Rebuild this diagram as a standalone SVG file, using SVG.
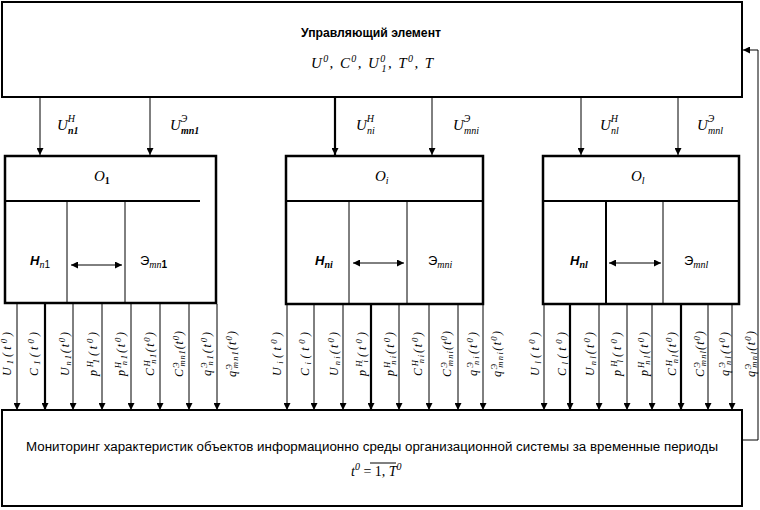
<svg xmlns="http://www.w3.org/2000/svg" width="760" height="510" viewBox="0 0 760 510">
<defs>
<style>
.bx{fill:#fff;stroke:#000;stroke-width:2}
.ob{fill:#fff;stroke:#000;stroke-width:2.5}
.ln{stroke:#000;stroke-width:1;fill:none}
.th{stroke:#000;stroke-width:2.2;fill:none}
.dv{stroke:#000;stroke-width:2;fill:none}
.ss{font-family:"Liberation Sans",Arial,sans-serif;fill:#000}
.m{font-family:"Liberation Serif","Times New Roman",serif;font-style:italic;fill:#000}
.r{font-size:12px}
.sp{font-size:8.5px}
.sb{font-size:8.5px}
.u{font-size:15px}
.us{font-size:10px}
</style>
<marker id="ah" viewBox="0 0 8 8" refX="8" refY="4" markerWidth="7" markerHeight="7" markerUnits="userSpaceOnUse" orient="auto-start-reverse"><path d="M0,0 L8,4 L0,8 z" fill="#000"/></marker>
</defs>

<g id="control">
<rect class="bx" x="2" y="2" width="740" height="95"/>
<text class="ss" x="371" y="37" font-size="12" font-weight="bold" text-anchor="middle" textLength="140" lengthAdjust="spacingAndGlyphs">Управляющий элемент</text>
<text class="m" x="311" y="68" font-size="15" textLength="122" lengthAdjust="spacing">U<tspan class="us" dy="-6">0</tspan><tspan dy="6">, C</tspan><tspan class="us" dy="-6">0</tspan><tspan dy="6">, U</tspan><tspan class="us" dy="-6">0</tspan><tspan class="us" dx="-5" dy="10">1</tspan><tspan dy="-4">, T</tspan><tspan class="us" dy="-6">0</tspan><tspan dy="6">, T</tspan></text>
</g>

<g id="monitor">
<rect class="bx" x="2" y="410" width="740" height="96"/>
<text class="ss" x="372" y="451" font-size="12.5" text-anchor="middle" textLength="692" lengthAdjust="spacingAndGlyphs">Мониторинг характеристик объектов информационно среды организационной системы за временные периоды</text>
<text class="m" x="351" y="476" font-size="14">t<tspan class="us" dy="-6">0</tspan><tspan dy="6" font-style="normal"> = </tspan><tspan font-style="normal">1, </tspan>T<tspan class="us" dy="-6">0</tspan></text>
<line class="ln" x1="370" y1="463" x2="396" y2="463"/>
</g>

<g id="obj1">
<rect class="ob" x="5" y="156" width="211" height="147"/>
<line class="dv" x1="5" y1="201" x2="200" y2="201"/>
<line class="ln" x1="67" y1="201" x2="67" y2="303"/>
<line class="ln" x1="125" y1="201" x2="125" y2="303"/>
<text class="m" x="94" y="181" font-size="15">O<tspan font-size="10" font-weight="bold" font-style="normal" dy="3">1</tspan></text>
<text class="ss" x="30" y="265" font-size="13" font-weight="bold" font-style="italic">Н<tspan class="m" font-size="10" font-weight="normal" dy="3">n</tspan><tspan class="ss" font-size="10" font-weight="normal" font-style="normal">1</tspan></text>
<text class="ss" x="140" y="265" font-size="13">Э<tspan class="m" font-size="10" dy="3">mn</tspan><tspan font-size="10" font-weight="bold">1</tspan></text>
<line class="ln" x1="71" y1="265" x2="122" y2="265" marker-start="url(#ah)" marker-end="url(#ah)"/>
</g>

<g id="obj2">
<rect class="ob" x="286" y="156" width="197" height="148"/>
<line class="dv" x1="286" y1="201" x2="483" y2="201"/>
<line class="ln" x1="349" y1="201" x2="349" y2="304"/>
<line class="ln" x1="407" y1="201" x2="407" y2="304"/>
<text class="m" x="375" y="181" font-size="15">O<tspan font-size="10" dy="3">i</tspan></text>
<text class="ss" x="315" y="265" font-size="13" font-weight="bold" font-style="italic">Н<tspan class="m" font-size="10" dy="3">ni</tspan></text>
<text class="ss" x="428" y="265" font-size="13">Э<tspan class="m" font-size="10" dy="3">mni</tspan></text>
<line class="ln" x1="353" y1="263" x2="404" y2="263" marker-start="url(#ah)" marker-end="url(#ah)"/>
</g>

<g id="obj3">
<rect class="ob" x="543" y="156" width="196" height="148"/>
<line class="dv" x1="543" y1="201" x2="739" y2="201"/>
<line class="dv" x1="606" y1="201" x2="606" y2="304"/>
<line class="ln" x1="663" y1="201" x2="663" y2="304"/>
<text class="m" x="631" y="181" font-size="15">O<tspan font-size="10" dy="3">l</tspan></text>
<text class="ss" x="570" y="265" font-size="13" font-weight="bold" font-style="italic">Н<tspan class="m" font-size="10" dy="3">nl</tspan></text>
<text class="ss" x="684" y="265" font-size="13">Э<tspan class="m" font-size="10" dy="3">mnl</tspan></text>
<line class="ln" x1="609" y1="263" x2="661" y2="263" marker-start="url(#ah)" marker-end="url(#ah)"/>
</g>

<g id="connectors">
<line class="ln" x1="40" y1="97" x2="40" y2="155" marker-end="url(#ah)"/>
<line class="ln" x1="150" y1="97" x2="150" y2="155" marker-end="url(#ah)"/>
<line class="th" x1="335" y1="97" x2="335" y2="155" marker-end="url(#ah)"/>
<line class="ln" x1="432" y1="97" x2="432" y2="155" marker-end="url(#ah)"/>
<line class="ln" x1="581" y1="97" x2="581" y2="155" marker-end="url(#ah)"/>
<line class="ln" x1="678" y1="97" x2="678" y2="155" marker-end="url(#ah)"/>

<line class="ln" x1="17" y1="304" x2="17" y2="410" marker-end="url(#ah)"/>
<line class="th" x1="45" y1="304" x2="45" y2="410" marker-end="url(#ah)"/>
<line class="ln" x1="73" y1="304" x2="73" y2="410" marker-end="url(#ah)"/>
<line class="ln" x1="102" y1="304" x2="102" y2="410" marker-end="url(#ah)"/>
<line class="ln" x1="131" y1="304" x2="131" y2="410" marker-end="url(#ah)"/>
<line class="ln" x1="160" y1="304" x2="160" y2="410" marker-end="url(#ah)"/>
<line class="ln" x1="189" y1="304" x2="189" y2="410" marker-end="url(#ah)"/>
<line class="ln" x1="217" y1="304" x2="217" y2="410" marker-end="url(#ah)"/>

<line class="ln" x1="287" y1="304" x2="287" y2="410" marker-end="url(#ah)"/>
<line class="ln" x1="314" y1="304" x2="314" y2="410" marker-end="url(#ah)"/>
<line class="ln" x1="343" y1="304" x2="343" y2="410" marker-end="url(#ah)"/>
<line class="th" x1="371" y1="304" x2="371" y2="410" marker-end="url(#ah)"/>
<line class="ln" x1="399" y1="304" x2="399" y2="410" marker-end="url(#ah)"/>
<line class="ln" x1="429" y1="304" x2="429" y2="410" marker-end="url(#ah)"/>
<line class="ln" x1="458" y1="304" x2="458" y2="410" marker-end="url(#ah)"/>
<line class="ln" x1="483" y1="304" x2="483" y2="410" marker-end="url(#ah)"/>

<line class="ln" x1="544" y1="304" x2="544" y2="410" marker-end="url(#ah)"/>
<line class="th" x1="570" y1="304" x2="570" y2="410" marker-end="url(#ah)"/>
<line class="ln" x1="599" y1="304" x2="599" y2="410" marker-end="url(#ah)"/>
<line class="ln" x1="627" y1="304" x2="627" y2="410" marker-end="url(#ah)"/>
<line class="ln" x1="652" y1="304" x2="652" y2="410" marker-end="url(#ah)"/>
<line class="th" x1="681" y1="304" x2="681" y2="410" marker-end="url(#ah)"/>
<line class="ln" x1="708" y1="304" x2="708" y2="410" marker-end="url(#ah)"/>
<line class="ln" x1="732" y1="304" x2="732" y2="410" marker-end="url(#ah)"/>

<polyline class="ln" points="742,440 758,440 758,50 743,50" marker-end="url(#ah)"/>

<text class="m u" x="57" y="130">U<tspan class="us" dy="-8">Н</tspan><tspan class="us" x="68" dy="12" font-weight="bold">n1</tspan></text>
<text class="m u" x="170" y="130">U<tspan class="us" dy="-8">Э</tspan><tspan class="us" x="181" dy="12" font-weight="bold">mn1</tspan></text>
<text class="m u" x="356" y="130">U<tspan class="us" dy="-8">Н</tspan><tspan class="us" x="367" dy="12">ni</tspan></text>
<text class="m u" x="453" y="130">U<tspan class="us" dy="-8">Э</tspan><tspan class="us" x="464" dy="12">mni</tspan></text>
<text class="m u" x="600" y="130">U<tspan class="us" dy="-8">Н</tspan><tspan class="us" x="611" dy="12">nl</tspan></text>
<text class="m u" x="697" y="130">U<tspan class="us" dy="-8">Э</tspan><tspan class="us" x="708" dy="12">mnl</tspan></text>

<g class="m r" text-anchor="middle">
<text transform="translate(11,354) rotate(-90)" textLength="44" lengthAdjust="spacing">U<tspan class="sb" dy="2">1</tspan><tspan dy="-2">(t</tspan><tspan class="sp" dy="-4">0</tspan><tspan dy="4">)</tspan></text>
<text transform="translate(38,354) rotate(-90)" textLength="44" lengthAdjust="spacing">C<tspan class="sb" dy="2">1</tspan><tspan dy="-2">(t</tspan><tspan class="sp" dy="-4">0</tspan><tspan dy="4">)</tspan></text>
<text transform="translate(69,354) rotate(-90)" textLength="44" lengthAdjust="spacing">U<tspan class="sb" dy="2">n1</tspan><tspan dy="-2">(t</tspan><tspan class="sp" dy="-4">0</tspan><tspan dy="4">)</tspan></text>
<text transform="translate(97,354) rotate(-90)" textLength="44" lengthAdjust="spacing">p<tspan class="sp" dy="-4">Н</tspan><tspan class="sb" dx="-5" dy="6">1</tspan><tspan dy="-2">(t</tspan><tspan class="sp" dy="-4">0</tspan><tspan dy="4">)</tspan></text>
<text transform="translate(125,354) rotate(-90)" textLength="44" lengthAdjust="spacing">p<tspan class="sp" dy="-4">Н</tspan><tspan class="sb" dx="-5" dy="6">n1</tspan><tspan dy="-2">(t</tspan><tspan class="sp" dy="-4">0</tspan><tspan dy="4">)</tspan></text>
<text transform="translate(154,354) rotate(-90)" textLength="44" lengthAdjust="spacing">C<tspan class="sp" dy="-4">Н</tspan><tspan class="sb" dx="-5" dy="6">n1</tspan><tspan dy="-2">(t</tspan><tspan class="sp" dy="-4">0</tspan><tspan dy="4">)</tspan></text>
<text transform="translate(183,354) rotate(-90)" textLength="46" lengthAdjust="spacing">C<tspan class="sp" dy="-4">Э</tspan><tspan class="sb" dx="-5" dy="6">mn1</tspan><tspan dy="-2">(t</tspan><tspan class="sp" dy="-4">0</tspan><tspan dy="4">)</tspan></text>
<text transform="translate(211,354) rotate(-90)" textLength="44" lengthAdjust="spacing">q<tspan class="sp" dy="-4">Э</tspan><tspan class="sb" dx="-5" dy="6">n1</tspan><tspan dy="-2">(t</tspan><tspan class="sp" dy="-4">0</tspan><tspan dy="4">)</tspan></text>
<text transform="translate(236,354) rotate(-90)" textLength="46" lengthAdjust="spacing">q<tspan class="sp" dy="-4">Э</tspan><tspan class="sb" dx="-5" dy="6">mn1</tspan><tspan dy="-2">(t</tspan><tspan class="sp" dy="-4">0</tspan><tspan dy="4">)</tspan></text>

<text transform="translate(281,354) rotate(-90)" textLength="44" lengthAdjust="spacing">U<tspan class="sb" dy="2">i</tspan><tspan dy="-2">(t</tspan><tspan class="sp" dy="-4">0</tspan><tspan dy="4">)</tspan></text>
<text transform="translate(309,354) rotate(-90)" textLength="44" lengthAdjust="spacing">C<tspan class="sb" dy="2">i</tspan><tspan dy="-2">(t</tspan><tspan class="sp" dy="-4">0</tspan><tspan dy="4">)</tspan></text>
<text transform="translate(338,354) rotate(-90)" textLength="44" lengthAdjust="spacing">U<tspan class="sb" dy="2">ni</tspan><tspan dy="-2">(t</tspan><tspan class="sp" dy="-4">0</tspan><tspan dy="4">)</tspan></text>
<text transform="translate(366,354) rotate(-90)" textLength="44" lengthAdjust="spacing">p<tspan class="sp" dy="-4">Н</tspan><tspan class="sb" dx="-5" dy="6">i</tspan><tspan dy="-2">(t</tspan><tspan class="sp" dy="-4">0</tspan><tspan dy="4">)</tspan></text>
<text transform="translate(394,354) rotate(-90)" textLength="44" lengthAdjust="spacing">p<tspan class="sp" dy="-4">Н</tspan><tspan class="sb" dx="-5" dy="6">ni</tspan><tspan dy="-2">(t</tspan><tspan class="sp" dy="-4">0</tspan><tspan dy="4">)</tspan></text>
<text transform="translate(422,354) rotate(-90)" textLength="44" lengthAdjust="spacing">C<tspan class="sp" dy="-4">Н</tspan><tspan class="sb" dx="-5" dy="6">ni</tspan><tspan dy="-2">(t</tspan><tspan class="sp" dy="-4">0</tspan><tspan dy="4">)</tspan></text>
<text transform="translate(451,354) rotate(-90)" textLength="46" lengthAdjust="spacing">C<tspan class="sp" dy="-4">Э</tspan><tspan class="sb" dx="-5" dy="6">mni</tspan><tspan dy="-2">(t</tspan><tspan class="sp" dy="-4">0</tspan><tspan dy="4">)</tspan></text>
<text transform="translate(477,354) rotate(-90)" textLength="44" lengthAdjust="spacing">q<tspan class="sp" dy="-4">Э</tspan><tspan class="sb" dx="-5" dy="6">ni</tspan><tspan dy="-2">(t</tspan><tspan class="sp" dy="-4">0</tspan><tspan dy="4">)</tspan></text>
<text transform="translate(501,354) rotate(-90)" textLength="46" lengthAdjust="spacing">q<tspan class="sp" dy="-4">Э</tspan><tspan class="sb" dx="-5" dy="6">mni</tspan><tspan dy="-2">(t</tspan><tspan class="sp" dy="-4">0</tspan><tspan dy="4">)</tspan></text>

<text transform="translate(539,354) rotate(-90)" textLength="44" lengthAdjust="spacing">U<tspan class="sb" dy="2">l</tspan><tspan dy="-2">(t</tspan><tspan class="sp" dy="-4">0</tspan><tspan dy="4">)</tspan></text>
<text transform="translate(566,354) rotate(-90)" textLength="44" lengthAdjust="spacing">C<tspan class="sb" dy="2">l</tspan><tspan dy="-2">(t</tspan><tspan class="sp" dy="-4">0</tspan><tspan dy="4">)</tspan></text>
<text transform="translate(594,354) rotate(-90)" textLength="44" lengthAdjust="spacing">U<tspan class="sb" dy="2">nl</tspan><tspan dy="-2">(t</tspan><tspan class="sp" dy="-4">0</tspan><tspan dy="4">)</tspan></text>
<text transform="translate(621,354) rotate(-90)" textLength="44" lengthAdjust="spacing">p<tspan class="sp" dy="-4">Н</tspan><tspan class="sb" dx="-5" dy="6">l</tspan><tspan dy="-2">(t</tspan><tspan class="sp" dy="-4">0</tspan><tspan dy="4">)</tspan></text>
<text transform="translate(648,354) rotate(-90)" textLength="44" lengthAdjust="spacing">p<tspan class="sp" dy="-4">Н</tspan><tspan class="sb" dx="-5" dy="6">nl</tspan><tspan dy="-2">(t</tspan><tspan class="sp" dy="-4">0</tspan><tspan dy="4">)</tspan></text>
<text transform="translate(676,354) rotate(-90)" textLength="44" lengthAdjust="spacing">C<tspan class="sp" dy="-4">Н</tspan><tspan class="sb" dx="-5" dy="6">nl</tspan><tspan dy="-2">(t</tspan><tspan class="sp" dy="-4">0</tspan><tspan dy="4">)</tspan></text>
<text transform="translate(704,354) rotate(-90)" textLength="46" lengthAdjust="spacing">C<tspan class="sp" dy="-4">Э</tspan><tspan class="sb" dx="-5" dy="6">mnl</tspan><tspan dy="-2">(t</tspan><tspan class="sp" dy="-4">0</tspan><tspan dy="4">)</tspan></text>
<text transform="translate(729,354) rotate(-90)" textLength="44" lengthAdjust="spacing">q<tspan class="sp" dy="-4">Э</tspan><tspan class="sb" dx="-5" dy="6">nl</tspan><tspan dy="-2">(t</tspan><tspan class="sp" dy="-4">0</tspan><tspan dy="4">)</tspan></text>
<text transform="translate(755,354) rotate(-90)" textLength="46" lengthAdjust="spacing">q<tspan class="sp" dy="-4">Э</tspan><tspan class="sb" dx="-5" dy="6">mnl</tspan><tspan dy="-2">(t</tspan><tspan class="sp" dy="-4">0</tspan><tspan dy="4">)</tspan></text>
</g>
</g>
</svg>
